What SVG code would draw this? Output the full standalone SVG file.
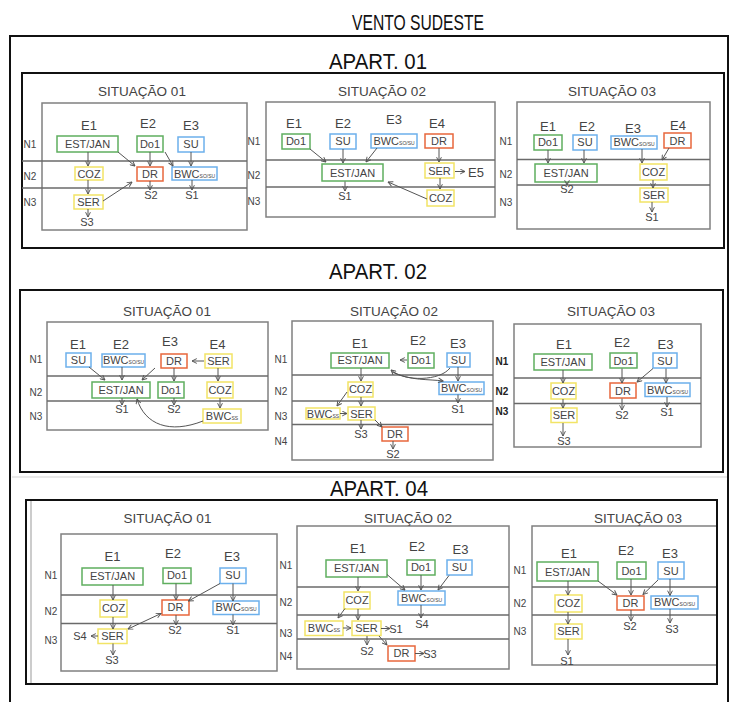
<svg xmlns="http://www.w3.org/2000/svg" width="732" height="702" viewBox="0 0 732 702">
<style>
text{font-family:"Liberation Sans",Arial,sans-serif;fill:#444;text-anchor:middle}
.h{font-size:22px;fill:#111}
.st{font-size:13.5px}
.e{font-size:13px}
.bx{font-size:11px}
.s{font-size:11px}
.n{font-size:10px}
.nb{font-size:10px;font-weight:bold;fill:#222}
.sub{font-size:5px}
.frame{fill:none;stroke:#111;stroke-width:2}
.sit{fill:none;stroke:#808080;stroke-width:1.5}
.lvl{stroke:#6a6a6a;stroke-width:1.5}
rect.g{fill:#fff;stroke:#5fae5f;stroke-width:1.5}
rect.y{fill:#fff;stroke:#f2e466;stroke-width:1.5}
rect.b{fill:#fff;stroke:#6cb0ec;stroke-width:1.5}
rect.r{fill:#fff;stroke:#e8673c;stroke-width:1.5}
#conn line,#conn path{fill:none;stroke:#555;stroke-width:1;marker-end:url(#a)}
#conn .both{marker-start:url(#a)}
</style>
<defs>
<marker id="a" viewBox="0 0 10 10" refX="9" refY="5" markerWidth="6" markerHeight="6" orient="auto-start-reverse"><path d="M1,1 L9,5 L1,9" fill="none" stroke="#555" stroke-width="1.6"/></marker>
</defs>
<rect width="732" height="702" fill="#fff"/>

<!-- outer frame and headings -->
<g id="outer">
<path d="M10,702 V36 H728 V702" class="frame"/>
<text class="h" x="418" y="30" textLength="132" lengthAdjust="spacingAndGlyphs">VENTO SUDESTE</text>
<text class="h" x="378" y="69" textLength="98" lengthAdjust="spacingAndGlyphs">APART. 01</text>
<text class="h" x="378" y="279" textLength="98" lengthAdjust="spacingAndGlyphs">APART. 02</text>
<text class="h" x="379" y="496" textLength="98" lengthAdjust="spacingAndGlyphs">APART. 04</text>
<line x1="12" y1="477" x2="727" y2="477" stroke="#e2e2e2" stroke-width="1.5"/>
<rect x="22" y="73" width="702" height="175" class="frame"/>
<rect x="20" y="290" width="703" height="182" class="frame"/>
<rect x="26" y="500" width="691" height="184" class="frame"/>
<line x1="31" y1="501" x2="31" y2="683" stroke="#999" stroke-width="1"/>
</g>

<!-- APART 01 / SITUACAO 01 -->
<g id="a1s1">
<rect x="42" y="103" width="205" height="127" class="sit"/>
<line x1="22" y1="161" x2="247" y2="161" class="lvl"/>
<line x1="22" y1="188" x2="247" y2="188" class="lvl"/>
<text class="st" x="142" y="96">SITUAÇÃO 01</text>
<text class="n" x="30" y="148">N1</text><text class="n" x="30" y="180">N2</text><text class="n" x="30" y="206">N3</text>
<text class="e" x="89" y="130">E1</text><text class="e" x="148" y="128">E2</text><text class="e" x="191" y="130">E3</text>
<text class="s" x="87" y="226">S3</text><text class="s" x="151" y="199">S2</text><text class="s" x="192" y="199">S1</text>
</g>
<g id="a1s1-estjan"><rect class="g" x="57" y="136" width="61" height="16"/><text class="bx" x="87.5" y="148">EST/JAN</text></g>
<g id="a1s1-do1"><rect class="g" x="137" y="136" width="26" height="16"/><text class="bx" x="150" y="148">Do1</text></g>
<g id="a1s1-su"><rect class="b" x="178" y="137" width="26" height="15"/><text class="bx" x="191" y="148">SU</text></g>
<g id="a1s1-coz"><rect class="y" x="75" y="167" width="28" height="13"/><text class="bx" x="89" y="177.5">COZ</text></g>
<g id="a1s1-dr"><rect class="r" x="137" y="167" width="26" height="14"/><text class="bx" x="150" y="178">DR</text></g>
<g id="a1s1-bwc"><rect class="b" x="172" y="167" width="45" height="13"/><text class="bx" x="194.5" y="177.5">BWC<tspan class="sub">SO/SU</tspan></text></g>
<g id="a1s1-ser"><rect class="y" x="74" y="195" width="29" height="14"/><text class="bx" x="88.5" y="206">SER</text></g>

<!-- APART 01 / SITUACAO 02 -->
<g id="a1s2">
<rect x="266" y="102" width="229" height="115" class="sit"/>
<line x1="266" y1="160" x2="495" y2="160" class="lvl"/>
<line x1="266" y1="187" x2="495" y2="187" class="lvl"/>
<text class="st" x="382" y="96">SITUAÇÃO 02</text>
<text class="n" x="254" y="145">N1</text><text class="n" x="254" y="178.5">N2</text><text class="n" x="254" y="205">N3</text>
<text class="e" x="294" y="128">E1</text><text class="e" x="343" y="128">E2</text><text class="e" x="394" y="124">E3</text><text class="e" x="437" y="128">E4</text>
<text class="e" x="476" y="177">E5</text>
<text class="s" x="345" y="200">S1</text>
</g>
<g id="a1s2-do1"><rect class="g" x="282" y="134" width="28" height="15"/><text class="bx" x="296" y="145">Do1</text></g>
<g id="a1s2-su"><rect class="b" x="330" y="134" width="26" height="15"/><text class="bx" x="343" y="145">SU</text></g>
<g id="a1s2-bwc"><rect class="b" x="371" y="134" width="46" height="14"/><text class="bx" x="394" y="144.5">BWC<tspan class="sub">SO/SU</tspan></text></g>
<g id="a1s2-dr"><rect class="r" x="425" y="134" width="28" height="14"/><text class="bx" x="439" y="144.5">DR</text></g>
<g id="a1s2-estjan"><rect class="g" x="322" y="164" width="61" height="17"/><text class="bx" x="352.5" y="176.5">EST/JAN</text></g>
<g id="a1s2-ser"><rect class="y" x="425" y="163" width="29" height="15"/><text class="bx" x="439.5" y="174.5">SER</text></g>
<g id="a1s2-coz"><rect class="y" x="427" y="190" width="27" height="16"/><text class="bx" x="440.5" y="202">COZ</text></g>

<!-- APART 01 / SITUACAO 03 -->
<g id="a1s3">
<rect x="517" y="102" width="193" height="127" class="sit"/>
<line x1="517" y1="159.5" x2="710" y2="159.5" class="lvl"/>
<line x1="517" y1="185" x2="710" y2="185" class="lvl"/>
<text class="st" x="612" y="96">SITUAÇÃO 03</text>
<text class="n" x="506" y="145">N1</text><text class="n" x="506" y="178">N2</text><text class="n" x="506" y="206">N3</text>
<text class="e" x="548" y="131">E1</text><text class="e" x="587" y="131">E2</text><text class="e" x="633" y="133">E3</text><text class="e" x="678" y="130">E4</text>
<text class="s" x="567" y="193">S2</text><text class="s" x="652" y="221">S1</text>
</g>
<g id="a1s3-do1"><rect class="g" x="534" y="135" width="28" height="15"/><text class="bx" x="548" y="146">Do1</text></g>
<g id="a1s3-su"><rect class="b" x="573" y="135" width="24" height="15"/><text class="bx" x="585" y="146">SU</text></g>
<g id="a1s3-bwc"><rect class="b" x="611" y="136" width="46" height="13"/><text class="bx" x="634" y="146">BWC<tspan class="sub">SO/SU</tspan></text></g>
<g id="a1s3-dr"><rect class="r" x="664" y="133" width="27" height="15"/><text class="bx" x="677.5" y="144.5">DR</text></g>
<g id="a1s3-estjan"><rect class="g" x="535" y="164" width="62" height="18"/><text class="bx" x="566" y="177">EST/JAN</text></g>
<g id="a1s3-coz"><rect class="y" x="640" y="164" width="27" height="16"/><text class="bx" x="653.5" y="176">COZ</text></g>
<g id="a1s3-ser"><rect class="y" x="640" y="188" width="28" height="14"/><text class="bx" x="654" y="199">SER</text></g>

<!-- APART 02 / SITUACAO 01 -->
<g id="a2s1">
<rect x="47" y="322" width="221" height="108" class="sit"/>
<line x1="47" y1="376" x2="268" y2="376" class="lvl"/>
<line x1="47" y1="401" x2="268" y2="401" class="lvl"/>
<text class="st" x="167" y="316">SITUAÇÃO 01</text>
<text class="n" x="36" y="363">N1</text><text class="n" x="36" y="395.5">N2</text><text class="n" x="36" y="420">N3</text>
<text class="e" x="78" y="348.5">E1</text><text class="e" x="121" y="348.5">E2</text><text class="e" x="170" y="346">E3</text><text class="e" x="217.5" y="348.5">E4</text>
<text class="s" x="122" y="413">S1</text><text class="s" x="174" y="413">S2</text>
</g>
<g id="a2s1-su"><rect class="b" x="66" y="353" width="25" height="14"/><text class="bx" x="78.5" y="364">SU</text></g>
<g id="a2s1-bwc"><rect class="b" x="102" y="354" width="43" height="13"/><text class="bx" x="123.5" y="364">BWC<tspan class="sub">SO/SU</tspan></text></g>
<g id="a2s1-dr"><rect class="r" x="161" y="354" width="26" height="14"/><text class="bx" x="174" y="365">DR</text></g>
<g id="a2s1-ser"><rect class="y" x="205" y="354" width="27" height="14"/><text class="bx" x="218.5" y="365">SER</text></g>
<g id="a2s1-estjan"><rect class="g" x="92" y="382" width="58" height="16"/><text class="bx" x="121" y="393.5">EST/JAN</text></g>
<g id="a2s1-do1"><rect class="g" x="158" y="382" width="26" height="16"/><text class="bx" x="171" y="393.5">Do1</text></g>
<g id="a2s1-coz"><rect class="y" x="207" y="382" width="26" height="16"/><text class="bx" x="220" y="393.5">COZ</text></g>
<g id="a2s1-bwcss"><rect class="y" x="203" y="409" width="38" height="14"/><text class="bx" x="222" y="420">BWC<tspan class="sub">SS</tspan></text></g>

<!-- APART 02 / SITUACAO 02 -->
<g id="a2s2">
<rect x="292" y="321" width="201" height="139" class="sit"/>
<line x1="292" y1="375" x2="493" y2="375" class="lvl"/>
<line x1="292" y1="401" x2="493" y2="401" class="lvl"/>
<line x1="292" y1="424.5" x2="493" y2="424.5" class="lvl"/>
<text class="st" x="394" y="316">SITUAÇÃO 02</text>
<text class="n" x="281" y="362.5">N1</text><text class="n" x="281" y="395">N2</text><text class="n" x="281" y="420">N3</text><text class="n" x="281" y="445">N4</text>
<text class="e" x="360" y="348">E1</text><text class="e" x="418" y="345">E2</text><text class="e" x="458" y="348">E3</text>
<text class="s" x="458" y="412.5">S1</text><text class="s" x="361" y="438">S3</text><text class="s" x="393" y="458">S2</text>
</g>
<g id="a2s2-estjan"><rect class="g" x="331" y="353" width="58" height="15"/><text class="bx" x="360" y="364">EST/JAN</text></g>
<g id="a2s2-do1"><rect class="g" x="408" y="353" width="26" height="15"/><text class="bx" x="421" y="364">Do1</text></g>
<g id="a2s2-su"><rect class="b" x="447" y="353" width="23" height="14"/><text class="bx" x="458.5" y="364">SU</text></g>
<g id="a2s2-coz"><rect class="y" x="348" y="382" width="25" height="15"/><text class="bx" x="360.5" y="393">COZ</text></g>
<g id="a2s2-bwc"><rect class="b" x="439" y="382" width="45" height="12.5"/><text class="bx" x="461.5" y="392">BWC<tspan class="sub">SO/SU</tspan></text></g>
<g id="a2s2-bwcss"><rect class="y" x="306" y="408" width="34" height="11"/><text class="bx" x="323" y="417.5">BWC<tspan class="sub">SS</tspan></text></g>
<g id="a2s2-ser"><rect class="y" x="348" y="407" width="27" height="13"/><text class="bx" x="361.5" y="417.5">SER</text></g>
<g id="a2s2-dr"><rect class="r" x="382" y="427" width="26" height="14"/><text class="bx" x="395" y="438">DR</text></g>

<!-- APART 02 / SITUACAO 03 -->
<g id="a2s3">
<rect x="514" y="324" width="187" height="123" class="sit"/>
<line x1="514" y1="378" x2="701" y2="378" class="lvl"/>
<line x1="514" y1="403.5" x2="701" y2="403.5" class="lvl"/>
<text class="st" x="611" y="316">SITUAÇÃO 03</text>
<text class="nb" x="502" y="364.5">N1</text><text class="nb" x="502" y="395">N2</text><text class="nb" x="502" y="415">N3</text>
<text class="e" x="564" y="349">E1</text><text class="e" x="622" y="347">E2</text><text class="e" x="665.5" y="349">E3</text>
<text class="s" x="622" y="419">S2</text><text class="s" x="667" y="416">S1</text><text class="s" x="564" y="444.5">S3</text>
</g>
<g id="a2s3-estjan"><rect class="g" x="534" y="354" width="58" height="16"/><text class="bx" x="563" y="366">EST/JAN</text></g>
<g id="a2s3-do1"><rect class="g" x="610" y="353" width="27" height="15"/><text class="bx" x="623.5" y="364.5">Do1</text></g>
<g id="a2s3-su"><rect class="b" x="653" y="353" width="24" height="15"/><text class="bx" x="665" y="364.5">SU</text></g>
<g id="a2s3-coz"><rect class="y" x="551" y="383" width="25" height="16"/><text class="bx" x="563.5" y="395">COZ</text></g>
<g id="a2s3-dr"><rect class="r" x="610" y="383" width="26" height="15"/><text class="bx" x="623" y="394.5">DR</text></g>
<g id="a2s3-bwc"><rect class="b" x="645" y="383" width="45" height="13.5"/><text class="bx" x="667.5" y="394">BWC<tspan class="sub">SO/SU</tspan></text></g>
<g id="a2s3-ser"><rect class="y" x="551" y="408" width="26" height="14.5"/><text class="bx" x="564" y="419">SER</text></g>

<!-- APART 04 / SITUACAO 01 -->
<g id="a4s1">
<rect x="61" y="534" width="216" height="137" class="sit"/>
<line x1="61" y1="595" x2="277" y2="595" class="lvl"/>
<line x1="61" y1="623.5" x2="277" y2="623.5" class="lvl"/>
<text class="st" x="167.5" y="523">SITUAÇÃO 01</text>
<text class="n" x="51" y="578.5">N1</text><text class="n" x="51" y="615">N2</text><text class="n" x="51" y="644">N3</text>
<text class="e" x="112.5" y="561">E1</text><text class="e" x="173" y="558">E2</text><text class="e" x="232" y="561">E3</text>
<text class="s" x="80" y="640">S4</text><text class="s" x="175" y="634">S2</text><text class="s" x="233" y="634">S1</text><text class="s" x="112" y="664">S3</text>
</g>
<g id="a4s1-estjan"><rect class="g" x="82" y="568" width="61" height="17"/><text class="bx" x="112.5" y="580">EST/JAN</text></g>
<g id="a4s1-do1"><rect class="g" x="163" y="568" width="28" height="15.5"/><text class="bx" x="177" y="579">Do1</text></g>
<g id="a4s1-su"><rect class="b" x="220" y="568" width="26" height="15.5"/><text class="bx" x="233" y="579">SU</text></g>
<g id="a4s1-coz"><rect class="y" x="100" y="600" width="27" height="17"/><text class="bx" x="113.5" y="612">COZ</text></g>
<g id="a4s1-dr"><rect class="r" x="162" y="600" width="27" height="15"/><text class="bx" x="175.5" y="611">DR</text></g>
<g id="a4s1-bwc"><rect class="b" x="213" y="601" width="46" height="13.5"/><text class="bx" x="236" y="611">BWC<tspan class="sub">SO/SU</tspan></text></g>
<g id="a4s1-ser"><rect class="y" x="98" y="629" width="29" height="14.5"/><text class="bx" x="112.5" y="640">SER</text></g>

<!-- APART 04 / SITUACAO 02 -->
<g id="a4s2">
<rect x="297" y="526" width="212" height="143" class="sit"/>
<line x1="297" y1="587" x2="509" y2="587" class="lvl"/>
<line x1="297" y1="615" x2="509" y2="615" class="lvl"/>
<line x1="297" y1="639" x2="509" y2="639" class="lvl"/>
<text class="st" x="408" y="523">SITUAÇÃO 02</text>
<text class="n" x="286" y="569">N1</text><text class="n" x="286" y="606">N2</text><text class="n" x="286" y="636.5">N3</text><text class="n" x="286" y="660">N4</text>
<text class="e" x="358" y="553">E1</text><text class="e" x="417" y="551">E2</text><text class="e" x="460.5" y="554">E3</text>
<text class="s" x="396" y="633">S1</text><text class="s" x="422" y="628">S4</text><text class="s" x="367" y="655">S2</text><text class="s" x="430" y="658">S3</text>
</g>
<g id="a4s2-estjan"><rect class="g" x="326" y="560" width="61" height="17"/><text class="bx" x="356.5" y="572">EST/JAN</text></g>
<g id="a4s2-do1"><rect class="g" x="407" y="560" width="28" height="15"/><text class="bx" x="421" y="571">Do1</text></g>
<g id="a4s2-su"><rect class="b" x="447" y="560" width="25" height="15"/><text class="bx" x="459.5" y="571">SU</text></g>
<g id="a4s2-coz"><rect class="y" x="344" y="592" width="26" height="17"/><text class="bx" x="357" y="604">COZ</text></g>
<g id="a4s2-bwc"><rect class="b" x="398" y="591" width="47" height="14"/><text class="bx" x="421.5" y="602">BWC<tspan class="sub">SO/SU</tspan></text></g>
<g id="a4s2-bwcss"><rect class="y" x="305" y="621" width="38" height="14.5"/><text class="bx" x="324" y="632">BWC<tspan class="sub">SS</tspan></text></g>
<g id="a4s2-ser"><rect class="y" x="352" y="621" width="29" height="14.5"/><text class="bx" x="366.5" y="632">SER</text></g>
<g id="a4s2-dr"><rect class="r" x="388" y="646" width="27" height="15"/><text class="bx" x="401.5" y="657">DR</text></g>

<!-- APART 04 / SITUACAO 03 -->
<g id="a4s3">
<path d="M716,526 H532 V665 H716" class="sit"/>
<line x1="532" y1="587" x2="716" y2="587" class="lvl"/>
<line x1="532" y1="615" x2="716" y2="615" class="lvl"/>
<text class="st" x="638" y="523">SITUAÇÃO 03</text>
<text class="n" x="520" y="573.5">N1</text><text class="n" x="520" y="607">N2</text><text class="n" x="520" y="635">N3</text>
<text class="e" x="569" y="558">E1</text><text class="e" x="626" y="555">E2</text><text class="e" x="670" y="558">E3</text>
<text class="s" x="630" y="630">S2</text><text class="s" x="672" y="633">S3</text><text class="s" x="567" y="665">S1</text>
</g>
<g id="a4s3-estjan"><rect class="g" x="537" y="562" width="61" height="19"/><text class="bx" x="567.5" y="575.5">EST/JAN</text></g>
<g id="a4s3-do1"><rect class="g" x="617" y="562" width="29" height="17"/><text class="bx" x="631.5" y="574.5">Do1</text></g>
<g id="a4s3-su"><rect class="b" x="658" y="562" width="26" height="17"/><text class="bx" x="671" y="574.5">SU</text></g>
<g id="a4s3-coz"><rect class="y" x="555" y="595" width="27" height="17"/><text class="bx" x="568.5" y="607">COZ</text></g>
<g id="a4s3-dr"><rect class="r" x="617" y="596" width="27" height="14"/><text class="bx" x="630.5" y="606.5">DR</text></g>
<g id="a4s3-bwc"><rect class="b" x="651" y="596" width="47" height="13"/><text class="bx" x="674.5" y="606">BWC<tspan class="sub">SO/SU</tspan></text></g>
<g id="a4s3-ser"><rect class="y" x="555" y="624" width="27" height="15"/><text class="bx" x="568.5" y="635">SER</text></g>

<g id="conn">
<!-- a1s1 -->
<line x1="88" y1="152" x2="88" y2="166"/>
<line x1="118" y1="152" x2="135" y2="166"/>
<line x1="150" y1="152" x2="150" y2="166"/>
<line x1="165" y1="152" x2="173" y2="166"/>
<line x1="191" y1="152" x2="191" y2="166"/>
<line x1="88" y1="180" x2="88" y2="194"/>
<line x1="103" y1="201" x2="132" y2="182"/>
<line x1="88" y1="209" x2="88" y2="217"/>
<line x1="150" y1="181" x2="150" y2="190"/>
<line x1="192" y1="180" x2="192" y2="190"/>
<!-- a1s2 -->
<line x1="310" y1="149" x2="326" y2="162"/>
<line x1="343" y1="149" x2="343" y2="163"/>
<line x1="377" y1="148" x2="366" y2="162"/>
<line x1="439" y1="148" x2="439" y2="162"/>
<line x1="440" y1="178" x2="440" y2="189"/>
<line x1="455" y1="171.5" x2="465" y2="171.5"/>
<line x1="427" y1="199" x2="388" y2="182"/>
<line x1="345" y1="181.5" x2="345" y2="191"/>
<!-- a1s3 -->
<line x1="548" y1="150" x2="548" y2="163"/>
<line x1="584" y1="150" x2="584" y2="163"/>
<line x1="642" y1="149" x2="642" y2="163"/>
<line x1="669" y1="148" x2="662" y2="160"/>
<line x1="567" y1="182" x2="567" y2="185"/>
<line x1="653" y1="180" x2="653" y2="188"/>
<line x1="652" y1="202" x2="652" y2="212"/>
<!-- a2s1 -->
<line x1="89" y1="367" x2="105" y2="380"/>
<line x1="122" y1="367" x2="122" y2="380"/>
<line x1="155" y1="368" x2="142" y2="380"/>
<line x1="174" y1="368" x2="174" y2="381"/>
<line x1="204" y1="361" x2="192" y2="361"/>
<line x1="218" y1="368" x2="218" y2="381"/>
<line x1="220" y1="398" x2="220" y2="408"/>
<line x1="122" y1="398" x2="122" y2="405"/>
<line x1="174" y1="398" x2="174" y2="405"/>
<path d="M203,421 C170,434 145,425 137,399"/>
<!-- a2s2 -->
<line x1="407" y1="360" x2="400" y2="360"/>
<path d="M450,368 C440,381 405,382 391,370"/>
<path d="M392,372 C410,381 430,379 443,381"/>
<line x1="458" y1="367" x2="458" y2="381"/>
<line x1="361" y1="368" x2="361" y2="381"/>
<line x1="347" y1="392" x2="337" y2="406"/>
<line x1="361" y1="397" x2="361" y2="406"/>
<line x1="340" y1="413.5" x2="347" y2="413.5"/>
<line x1="458" y1="394.5" x2="458" y2="403"/>
<line x1="361" y1="420" x2="361" y2="429"/>
<line x1="375" y1="420" x2="382" y2="427"/>
<line x1="393" y1="441" x2="393" y2="449"/>
<!-- a2s3 -->
<line x1="563" y1="370" x2="563" y2="383"/>
<line x1="622" y1="368.5" x2="622" y2="383"/>
<line x1="653" y1="368.5" x2="637" y2="382"/>
<line x1="666" y1="368.5" x2="666" y2="383"/>
<line x1="563" y1="399" x2="563" y2="408"/>
<line x1="622" y1="398.5" x2="622" y2="410"/>
<line x1="667" y1="397" x2="667" y2="407"/>
<line x1="563" y1="423" x2="563" y2="436"/>
<!-- a4s1 -->
<line x1="113" y1="585" x2="113" y2="600"/>
<line x1="176" y1="583.5" x2="176" y2="600"/>
<line x1="220" y1="583.5" x2="188.5" y2="601"/>
<line x1="233" y1="583.5" x2="233" y2="601"/>
<line x1="113" y1="617" x2="113" y2="629"/>
<line class="both" x1="128" y1="629" x2="161" y2="613.5"/>
<line x1="176" y1="615" x2="176" y2="625"/>
<line x1="233" y1="614.5" x2="233" y2="625"/>
<line x1="98" y1="636" x2="91" y2="636"/>
<line x1="113" y1="643.5" x2="113" y2="655"/>
<!-- a4s2 -->
<line x1="358" y1="577" x2="358" y2="591"/>
<line x1="387" y1="574.5" x2="405" y2="590"/>
<line x1="421" y1="575" x2="421" y2="590"/>
<line x1="449" y1="575.5" x2="438" y2="590"/>
<line x1="345" y1="608.5" x2="338" y2="618"/>
<line x1="358" y1="609" x2="358" y2="620"/>
<line x1="343" y1="628" x2="351" y2="628"/>
<line x1="381" y1="628.5" x2="390" y2="628.5"/>
<line x1="421" y1="605" x2="421" y2="618"/>
<line x1="367" y1="636" x2="367" y2="645"/>
<line x1="379" y1="636" x2="387" y2="645"/>
<line x1="415" y1="653.5" x2="424" y2="653.5"/>
<!-- a4s3 -->
<line x1="568" y1="581" x2="568" y2="595"/>
<line x1="598" y1="581" x2="617" y2="595"/>
<line x1="631" y1="579" x2="631" y2="595"/>
<line x1="658" y1="580" x2="643" y2="594.5"/>
<line x1="670" y1="579" x2="670" y2="595.5"/>
<line x1="568" y1="612" x2="568" y2="624"/>
<line x1="631" y1="610" x2="631" y2="621"/>
<line x1="670" y1="609" x2="670" y2="623"/>
<line x1="568" y1="639" x2="568" y2="655"/>
</g>
</svg>
